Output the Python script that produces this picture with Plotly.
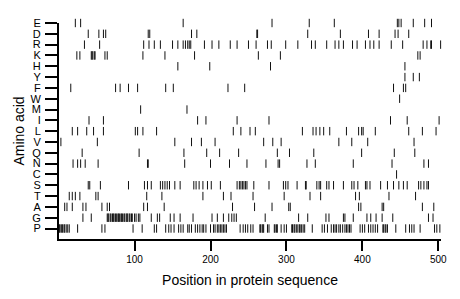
import plotly.graph_objects as go

# Amino acid rows, top to bottom
amino_acids = ["E", "D", "R", "K", "H", "Y", "F", "W", "M", "I",
               "L", "V", "Q", "N", "C", "S", "T", "A", "G", "P"]

pos_E = [22, 29, 164, 281, 330, 363, 446, 448, 451, 467, 482, 491]
pos_D = [39, 53, 59, 62, 118, 120, 175, 182, 261, 262, 328, 371, 408, 422, 443, 447, 461]
pos_R = [34, 54, 112, 119, 126, 134, 150, 157, 164, 167, 170, 172, 174, 192, 202, 211,
         226, 235, 250, 260, 275, 280, 299, 315, 333, 338, 353, 364, 369, 375, 387, 393,
         404, 410, 415, 422, 438, 453, 480, 485, 490, 491, 503]
pos_K = [24, 28, 43, 44, 45, 47, 48, 61, 64, 111, 140, 179, 263, 292, 473, 476]
pos_H = [157, 199, 279, 456]
pos_Y = [456, 467, 475]
pos_F = [16, 75, 81, 92, 104, 141, 151, 223, 245, 441, 454, 457]
pos_W = [449]
pos_M = [108, 169]
pos_I = [40, 59, 183, 194, 235, 277, 437, 459, 501]
pos_L = [18, 25, 37, 46, 59, 101, 104, 111, 129, 230, 240, 252, 259, 321, 335, 339,
         344, 349, 357, 379, 395, 399, 401, 417, 461, 479, 497]
pos_V = [3, 51, 153, 175, 188, 206, 270, 282, 293, 369, 386, 407, 468]
pos_Q = [31, 106, 165, 195, 212, 237, 288, 304, 336, 399, 442, 469]
pos_N = [19, 25, 29, 35, 52, 117, 118, 166, 200, 225, 248, 273, 289, 291, 327, 338,
         388, 439, 481, 487]
pos_C = [445]
pos_S = [39, 41, 55, 92, 113, 117, 122, 134, 137, 140, 143, 146, 153, 160, 178, 181,
         185, 190, 196, 201, 213, 235, 238, 240, 242, 244, 246, 248, 257, 277, 296, 299,
         302, 314, 325, 326, 340, 343, 345, 353, 356, 362, 375, 386, 389, 394, 404, 406,
         410, 424, 433, 441, 448, 454, 459, 474, 477, 481, 485, 487]
pos_T = [14, 18, 22, 28, 49, 52, 116, 136, 190, 217, 227, 256, 297, 331, 345, 391,
         396, 435, 470]
pos_A = [8, 11, 18, 32, 36, 57, 64, 67, 112, 117, 139, 229, 258, 281, 303, 305, 395,
         398, 426, 428, 479, 494]
pos_G = [32, 43, 64, 65, 66, 68, 69, 71, 72, 73, 75, 76, 78, 79, 80, 82, 83, 84, 86,
         87, 89, 90, 91, 93, 94, 96, 97, 100, 102, 105, 107, 122, 130, 133, 147, 152,
         160, 177, 202, 209, 217, 224, 228, 231, 234, 272, 316, 328, 352, 356, 375, 377,
         388, 406, 411, 418, 426, 440, 487, 493]
pos_P = [1, 2, 4, 5, 7, 8, 10, 12, 14, 25, 57, 61, 98, 110, 126, 129, 141, 145, 148,
         152, 158, 161, 164, 170, 172, 175, 180, 183, 186, 189, 191, 194, 200, 204, 206,
         209, 211, 213, 215, 217, 219, 221, 239, 243, 246, 249, 253, 256, 265, 266, 268,
         269, 270, 275, 277, 284, 285, 287, 288, 293, 297, 300, 307, 308, 310, 311, 313,
         315, 317, 318, 320, 322, 324, 334, 347, 350, 354, 359, 362, 364, 366, 369, 371,
         374, 377, 379, 381, 383, 385, 397, 400, 403, 408, 411, 414, 417, 420, 427, 428,
         430, 431, 433, 444, 457, 462, 465, 468, 476, 495, 498, 502]

positions = {
    "E": pos_E, "D": pos_D, "R": pos_R, "K": pos_K, "H": pos_H, "Y": pos_Y,
    "F": pos_F, "W": pos_W, "M": pos_M, "I": pos_I, "L": pos_L, "V": pos_V,
    "Q": pos_Q, "N": pos_N, "C": pos_C, "S": pos_S, "T": pos_T, "A": pos_A,
    "G": pos_G, "P": pos_P,
}

x_ticks = [100, 200, 300, 400, 500]

n = len(amino_acids)
row_index = {aa: n - 1 - i for i, aa in enumerate(amino_acids)}

fig = go.Figure()
for aa in amino_acids:
    xs = positions[aa]
    fig.add_trace(go.Scatter(
        x=xs, y=[row_index[aa]] * len(xs), mode="markers",
        marker=dict(symbol="line-ns", size=6, color="black",
                    line=dict(width=1, color="#111111")),
        cliponaxis=False, showlegend=False, hoverinfo="x+name", name=aa,
    ))

font_family = "Liberation Sans, Arial, sans-serif"
# The page body adds an 8px offset, so the figure is 8px smaller on each axis
fig.update_layout(
    width=452, height=291,
    margin=dict(l=51, r=19, t=15, b=60, autoexpand=False),
    paper_bgcolor="white", plot_bgcolor="white",
    font=dict(family=font_family, color="black"),
    xaxis=dict(
        range=[0.5, 503.5], tickvals=x_ticks, ticktext=[str(v) for v in x_ticks],
        automargin=False,
        showgrid=False, zeroline=False, showline=True, linecolor="black", linewidth=2,
        ticks="outside", ticklen=10, tickwidth=2, tickcolor="black",
        tickfont=dict(size=10, family=font_family),
        title=dict(text="Position in protein sequence", font=dict(size=14), standoff=11),
    ),
    yaxis=dict(
        range=[-0.97, n - 1], tickvals=[row_index[a] for a in amino_acids],
        ticktext=amino_acids, automargin=False,
        showgrid=False, zeroline=False, showline=True, linecolor="black", linewidth=2,
        ticks="outside", ticklen=12, tickwidth=2, tickcolor="black",
        tickfont=dict(size=11, family=font_family), ticklabelstandoff=2,
        title=dict(text="Amino acid", font=dict(size=14), standoff=3),
    ),
)

fig.write_html("out.html")
